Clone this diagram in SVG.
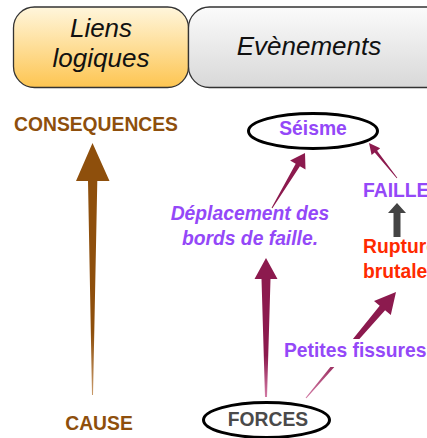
<svg xmlns="http://www.w3.org/2000/svg" width="427" height="438" viewBox="0 0 427 438">
  <defs>
    <linearGradient id="gYellow" x1="0" y1="0" x2="0" y2="1">
      <stop offset="0" stop-color="#fff6dc"/>
      <stop offset="1" stop-color="#fdc551"/>
    </linearGradient>
    <linearGradient id="gGray" x1="0" y1="0" x2="0" y2="1">
      <stop offset="0" stop-color="#fbfbfb"/>
      <stop offset="1" stop-color="#d8d8d8"/>
    </linearGradient>
    <linearGradient id="gBrown" gradientUnits="userSpaceOnUse" x1="0" y1="143" x2="0" y2="395">
      <stop offset="0.75" stop-color="#8e4f0c"/>
      <stop offset="1" stop-color="#c89a6a"/>
    </linearGradient>
    <linearGradient id="gMaroon" gradientUnits="userSpaceOnUse" x1="0" y1="258" x2="0" y2="397">
      <stop offset="0.7" stop-color="#8c1a4e"/>
      <stop offset="1" stop-color="#d27aa4"/>
    </linearGradient>
    <linearGradient id="gMaroonDiag" gradientUnits="userSpaceOnUse" x1="396" y1="292" x2="306" y2="398">
      <stop offset="0.6" stop-color="#8c1a4e"/>
      <stop offset="1" stop-color="#d27aa4"/>
    </linearGradient>
  </defs>
  <style>
    .hdr { font-family: "Liberation Sans", Arial, sans-serif; font-style: italic; font-size: 26px; fill: #111; text-anchor: middle; }
    .box { stroke: #333; stroke-width: 1.3; }
    .lbl { font-family: "Liberation Sans", Arial, sans-serif; font-weight: bold; font-size: 19.3px; }
    .brown { fill: #8e4f0c; }
    .purple { fill: #9448f8; }
    .red { fill: #ff2a00; }
    .gray { fill: #4a4a4a; }
    .ell { fill: #fff; stroke: #000; stroke-width: 3; }
    .maroon { fill: #8c1a4e; }
  </style>

  <g id="header-liens">
    <rect class="box" x="13.5" y="7" width="175" height="80.5" rx="21" fill="url(#gYellow)"/>
    <text class="hdr" x="101" y="37">Liens</text>
    <text class="hdr" x="101" y="67">logiques</text>
  </g>
  <g id="header-evenements">
    <rect class="box" x="188.5" y="7" width="260" height="80.5" rx="21" fill="url(#gGray)"/>
    <text class="hdr" x="309" y="55">Evènements</text>
  </g>

  <g id="consequences">
    <text class="lbl brown" x="96" y="131" text-anchor="middle">CONSEQUENCES</text>
  </g>
  <g id="cause">
    <text class="lbl brown" x="99" y="430" text-anchor="middle">CAUSE</text>
  </g>

  <g id="seisme">
    <ellipse class="ell" cx="313" cy="131" rx="64.5" ry="17.5"/>
    <text class="lbl purple" x="313" y="135" text-anchor="middle">Séisme</text>
  </g>
  <g id="forces">
    <ellipse class="ell" cx="266.5" cy="420" rx="63" ry="17.5"/>
    <text class="lbl gray" x="268" y="426" text-anchor="middle">FORCES</text>
  </g>
  <g id="faille">
    <text class="lbl purple" x="363" y="197">FAILLE</text>
  </g>
  <g id="rupture">
    <text class="lbl red" x="363" y="253">Rupture</text>
    <text class="lbl red" x="363" y="278">brutale</text>
  </g>
  <g id="deplacement">
    <text class="lbl purple" font-style="italic" x="250" y="220" text-anchor="middle">Déplacement des</text>
    <text class="lbl purple" font-style="italic" x="250" y="245" text-anchor="middle">bords de faille.</text>
  </g>

  <g id="connectors">
    <polygon id="arrow-cause-consequences" fill="url(#gBrown)" points="92.5,143 109.5,181 97.3,181 93,395 92,395 88,181 76,181"/>
    <polygon id="arrow-deplacement-seisme" class="maroon" points="305,153 305.5,169.6 299.9,166.3 272.4,208.3 271.6,207.7 295.7,163.7 290.1,160.4"/>
    <polygon id="arrow-faille-seisme" class="maroon" points="369,143 380.2,148.2 377.1,150.7 397.3,177.8 396.7,178.2 374.7,152.5 371.6,155"/>
    <polygon id="arrow-rupture-faille" fill="#444" points="397,203 406,213 400.5,213 400.5,237 393.5,237 393.5,213 388,213"/>
    <polygon id="arrow-forces-deplacement" fill="url(#gMaroon)" points="266,258 277.5,279 270.5,279 267,397 265,397 261.5,279 254.5,279"/>
    <polygon id="arrow-forces-rupture" fill="url(#gMaroonDiag)" points="396,292 390.8,315.1 385.1,310.3 306.4,398.3 305.6,397.7 379.7,305.7 374,300.9"/>
  </g>

  <g id="petites-fissures">
    <rect x="281" y="339" width="146" height="28" fill="#fff"/>
    <text class="lbl purple" x="284" y="357">Petites fissures</text>
  </g>
</svg>
